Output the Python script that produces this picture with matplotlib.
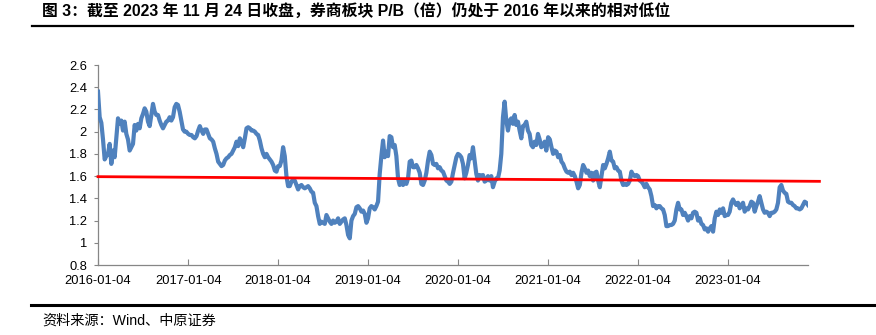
import numpy as np
import pandas as pd
import matplotlib
matplotlib.use('Agg')
import matplotlib.pyplot as plt
from matplotlib.lines import Line2D
from matplotlib.ticker import FuncFormatter

plt.rcParams['font.family'] = ['Liberation Sans', 'Noto Sans CJK SC', 'DejaVu Sans']

# 券商板块 P/B（倍），每年自 1 月 4 日起约每周一个观测值
pb_2016 = [2.36, 2.13, 2.08, 1.93, 1.75, 1.78, 1.80, 1.89, 1.71, 1.83, 1.77, 1.95, 2.12, 2.07,
           2.10, 2.01, 2.09, 1.98, 1.93, 1.83, 1.86, 1.89, 2.06, 2.01, 2.07, 2.03, 2.12, 2.16,
           2.21, 2.18, 2.09, 2.05, 2.15, 2.25, 2.18, 2.15, 2.15, 2.10, 2.06, 2.03, 2.06, 2.09,
           2.10, 2.13, 2.10, 2.13, 2.22, 2.25, 2.24, 2.18, 2.10, 2.02, 2.00, 2.00]
pb_2017 = [1.98, 1.97, 1.97, 1.95, 1.94, 1.96, 2.01, 2.05, 2.01, 1.98, 2.02, 2.02, 1.98, 1.94,
           1.93, 1.91, 1.85, 1.80, 1.73, 1.71, 1.69, 1.70, 1.74, 1.76, 1.77, 1.79, 1.80, 1.83,
           1.86, 1.91, 1.87, 1.94, 1.91, 1.86, 1.94, 2.03, 2.04, 2.03, 2.01, 2.01, 2.00, 1.98,
           1.97, 1.92, 1.85, 1.80, 1.77, 1.80, 1.77, 1.75, 1.73, 1.70, 1.65, 1.64]
pb_2018 = [1.69, 1.69, 1.74, 1.86, 1.78, 1.60, 1.51, 1.51, 1.55, 1.57, 1.56, 1.52, 1.48, 1.51,
           1.52, 1.50, 1.49, 1.50, 1.51, 1.49, 1.46, 1.45, 1.36, 1.33, 1.24, 1.17, 1.19, 1.18,
           1.17, 1.25, 1.22, 1.19, 1.17, 1.20, 1.18, 1.19, 1.22, 1.17, 1.19, 1.21, 1.22, 1.16,
           1.07, 1.04, 1.20, 1.24, 1.26, 1.32, 1.33, 1.31, 1.28, 1.29, 1.26, 1.18]
pb_2019 = [1.22, 1.31, 1.33, 1.32, 1.30, 1.33, 1.37, 1.62, 1.78, 1.92, 1.77, 1.82, 1.78, 1.96,
           1.95, 1.86, 1.88, 1.78, 1.58, 1.52, 1.55, 1.52, 1.56, 1.53, 1.58, 1.73, 1.74, 1.68,
           1.68, 1.70, 1.67, 1.63, 1.53, 1.52, 1.56, 1.63, 1.74, 1.82, 1.79, 1.71, 1.70, 1.71,
           1.67, 1.68, 1.65, 1.64, 1.60, 1.56, 1.55, 1.53, 1.55, 1.63, 1.70, 1.77]
pb_2020 = [1.80, 1.79, 1.77, 1.71, 1.58, 1.63, 1.70, 1.79, 1.76, 1.86, 1.74, 1.62, 1.56, 1.61,
           1.60, 1.61, 1.55, 1.56, 1.60, 1.56, 1.60, 1.50, 1.55, 1.58, 1.58, 1.65, 1.80, 2.13,
           2.27, 2.10, 2.01, 2.10, 2.12, 2.07, 2.15, 2.06, 2.09, 2.01, 1.94, 2.05, 2.06, 2.09,
           2.01, 1.98, 1.88, 1.86, 1.91, 1.88, 1.98, 1.93, 1.86, 1.88, 1.91, 1.83]
pb_2021 = [1.95, 1.93, 1.86, 1.80, 1.83, 1.82, 1.77, 1.79, 1.73, 1.71, 1.67, 1.64, 1.63, 1.64,
           1.61, 1.63, 1.60, 1.55, 1.49, 1.52, 1.63, 1.70, 1.67, 1.63, 1.65, 1.60, 1.63, 1.56,
           1.63, 1.64, 1.56, 1.50, 1.60, 1.70, 1.67, 1.71, 1.76, 1.82, 1.74, 1.73, 1.67, 1.68,
           1.65, 1.64, 1.56, 1.52, 1.53, 1.52, 1.53, 1.56, 1.64, 1.61, 1.60, 1.61]
pb_2022 = [1.60, 1.56, 1.55, 1.53, 1.50, 1.53, 1.50, 1.48, 1.42, 1.33, 1.34, 1.31, 1.33, 1.33,
           1.31, 1.30, 1.25, 1.15, 1.15, 1.16, 1.16, 1.17, 1.20, 1.30, 1.36, 1.30, 1.30, 1.25,
           1.27, 1.24, 1.20, 1.24, 1.22, 1.27, 1.28, 1.27, 1.20, 1.22, 1.17, 1.16, 1.12, 1.13,
           1.10, 1.13, 1.15, 1.10, 1.22, 1.28, 1.25, 1.30, 1.27, 1.31, 1.24, 1.25]
pb_2023 = [1.25, 1.28, 1.36, 1.39, 1.36, 1.34, 1.36, 1.31, 1.34, 1.36, 1.28, 1.31, 1.30, 1.33,
           1.37, 1.36, 1.28, 1.33, 1.37, 1.42, 1.36, 1.30, 1.27, 1.28, 1.27, 1.24, 1.27, 1.27,
           1.28, 1.30, 1.36, 1.50, 1.52, 1.47, 1.45, 1.44, 1.37, 1.36, 1.36, 1.34, 1.33, 1.31,
           1.31, 1.30, 1.31, 1.34, 1.37, 1.36, 1.34]
years = [2016, 2017, 2018, 2019, 2020, 2021, 2022, 2023]
pb_series = [pb_2016, pb_2017, pb_2018, pb_2019, pb_2020, pb_2021, pb_2022, pb_2023]

# 红色趋势线两端
trend_dates = ['2016-01-04', '2024-01-10']
trend_values = [1.595, 1.553]

xtick_labels = ['2016-01-04', '2017-01-04', '2018-01-04', '2019-01-04',
                '2020-01-04', '2021-01-04', '2022-01-04', '2023-01-04']
yticks = [0.8, 1.0, 1.2, 1.4, 1.6, 1.8, 2.0, 2.2, 2.4, 2.6]

title = '图 3：截至 2023 年 11 月 24 日收盘，券商板块 P/B（倍）仍处于 2016 年以来的相对低位'
source = '资料来源：Wind、中原证券'

dates, values = [], []
step = pd.Timedelta(days=365.25 / 54)
for year, vals in zip(years, pb_series):
    start = pd.Timestamp(f'{year}-01-04')
    dates.extend(start + step * i for i in range(len(vals)))
    values.extend(vals)

fig = plt.figure(figsize=(8.76, 3.35), dpi=100)
ax = fig.add_axes([98 / 876, 1 - 265 / 335, 710 / 876, 200 / 335])

ax.plot(dates, values, color='#4F81BD', lw=3.0, solid_joinstyle='round', zorder=3)
ax.plot(pd.to_datetime(trend_dates), trend_values, color='#FF0000', lw=2.0,
        clip_on=False, zorder=4)

ax.set_ylim(0.8, 2.6)
ax.set_yticks(yticks)
ax.yaxis.set_major_formatter(FuncFormatter(lambda v, p: f'{v:g}'))
ax.set_xlim(pd.Timestamp('2016-01-04'), dates[-1])
ax.set_xticks(pd.to_datetime(xtick_labels))
ax.set_xticklabels(xtick_labels)

for side in ['top', 'right']:
    ax.spines[side].set_visible(False)
for side in ['left', 'bottom']:
    ax.spines[side].set_color('#868686')
    ax.spines[side].set_linewidth(0.9)
ax.tick_params(axis='x', direction='in', length=4, color='#868686', labelsize=9.3, pad=7)
ax.tick_params(axis='y', direction='out', length=3, color='#868686', labelsize=9.3, pad=5)

fig.text(42 / 876, 1 - 12 / 335, title, fontsize=11.4, fontweight='bold',
         ha='left', va='center', color='black')
fig.add_artist(Line2D([32 / 876, 853 / 876], [1 - 26 / 335] * 2, color='black', lw=1.6))
fig.add_artist(Line2D([31 / 876, 876 / 876], [1 - 305 / 335] * 2, color='black', lw=2.2))
fig.text(42 / 876, 1 - 321 / 335, source, fontsize=10.2, ha='left', va='center', color='black')

fig.savefig('out.png', dpi=100)
